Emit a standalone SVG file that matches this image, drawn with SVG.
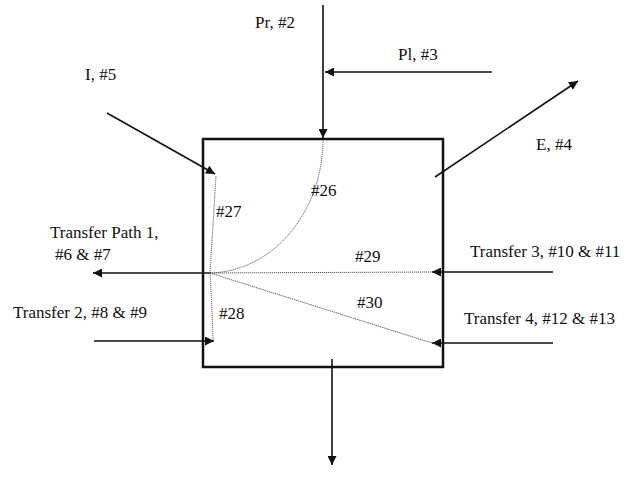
<svg xmlns="http://www.w3.org/2000/svg" width="634" height="492" viewBox="0 0 634 492">
<style>
text{font-family:"Liberation Serif","Times New Roman",serif;font-size:17px;fill:#111}
.a{stroke:#111;stroke-width:1.6;fill:none}
.d{stroke:#555;stroke-width:1;fill:none;stroke-dasharray:1.2 0.8}
.box{stroke:#111;stroke-width:2.5;fill:#fff}
</style>
<defs>
<marker id="ah" viewBox="0 0 10 10" refX="10" refY="5" markerWidth="11" markerHeight="9" markerUnits="userSpaceOnUse" orient="auto">
<path d="M0,0 L10,5 L0,10 z" fill="#111"/>
</marker>
</defs>
<rect width="634" height="492" fill="#fff"/>
<g id="control-volume">
<rect class="box" x="203" y="139" width="240" height="228"/>
</g>
<g id="connectors">
<line class="a" x1="323" y1="5" x2="323" y2="138" marker-end="url(#ah)"/>
<line class="a" x1="492" y1="72" x2="325" y2="72" marker-end="url(#ah)"/>
<line class="a" x1="107" y1="113" x2="215" y2="174" marker-end="url(#ah)"/>
<line class="a" x1="435" y1="177" x2="578" y2="81" marker-end="url(#ah)"/>
<line class="a" x1="211" y1="273" x2="93" y2="273" marker-end="url(#ah)"/>
<line class="a" x1="94" y1="341" x2="214" y2="341" marker-end="url(#ah)"/>
<line class="a" x1="553" y1="272" x2="432" y2="272" marker-end="url(#ah)"/>
<line class="a" x1="553" y1="343" x2="432" y2="343" marker-end="url(#ah)"/>
<line class="a" x1="332" y1="359" x2="332" y2="465" marker-end="url(#ah)"/>
<path class="d" d="M323,140 A115,134 0 0 1 209,273"/>
<path class="d" d="M216,176 Q213,225 210,273"/>
<path class="d" d="M210,273 Q212,305 213,340"/>
<path class="d" d="M210,273 L432,272"/>
<path class="d" d="M210,273 L432,343"/>
</g>
<g id="label-pr"><text x="255" y="28">Pr, #2</text></g>
<g id="label-pl"><text x="398" y="60">Pl, #3</text></g>
<g id="label-i"><text x="85" y="80">I, #5</text></g>
<g id="label-e"><text x="536" y="150">E, #4</text></g>
<g id="label-t1"><text x="50" y="238">Transfer Path 1,</text><text x="55" y="260">#6 &amp; #7</text></g>
<g id="label-t2"><text x="13" y="318">Transfer 2, #8 &amp; #9</text></g>
<g id="label-t3"><text x="470" y="257">Transfer 3, #10 &amp; #11</text></g>
<g id="label-t4"><text x="464" y="324">Transfer 4, #12 &amp; #13</text></g>
<g id="label-26"><text x="311" y="196">#26</text></g>
<g id="label-27"><text x="216" y="217">#27</text></g>
<g id="label-28"><text x="219" y="319">#28</text></g>
<g id="label-29"><text x="355" y="262">#29</text></g>
<g id="label-30"><text x="357" y="308">#30</text></g>
</svg>
